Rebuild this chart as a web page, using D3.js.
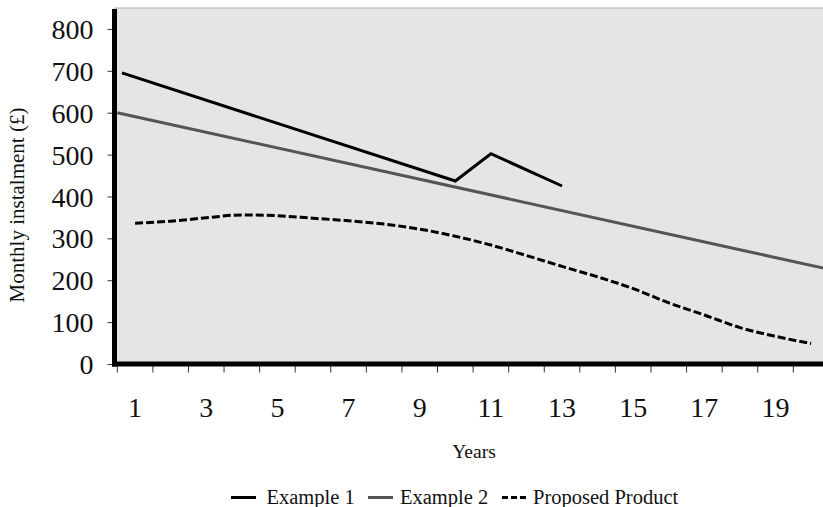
<!DOCTYPE html>
<html>
<head>
<meta charset="utf-8">
<script src="https://cdn.jsdelivr.net/npm/d3@7"></script>
<style>
  html, body { margin: 0; padding: 0; background: #ffffff; }
  svg { display: block; font-family: "Liberation Serif", "DejaVu Serif", serif; }
</style>
</head>
<body>
<svg id="chart" width="823" height="507"></svg>
<script>
// ---- data ----
const categories = d3.range(1, 21);               // years 1..20
const xTickLabels = [1, 3, 5, 7, 9, 11, 13, 15, 17, 19];
const yTicks = [0, 100, 200, 300, 400, 500, 600, 700, 800];

const proposedValues = [336, 341, 349, 356, 354, 348, 342, 334, 322, 305,
                        284, 259, 233, 208, 180, 146, 117, 87, 66, 49];
const example1Years = [0.63, 10, 11, 13];
const example1Values = [695, 437, 502, 425];
const example2Years = [0.5, 20.5];
const example2Values = [600, 226];

const seriesNames = ["Example 1", "Example 2", "Proposed Product"];

// ---- layout ----
const svg = d3.select("#chart");
const W = 823, H = 507;
const plotLeft = 115, plotTop = 8, plotBottom = 364;

const x = d3.scaleLinear().domain([0.5, 20.5]).range([117.3, 117.3 + 20 * 35.58]);
const y = d3.scaleLinear().domain([0, 850]).range([plotBottom, plotTop]);

// background
svg.append("rect")
  .attr("x", plotLeft).attr("y", plotTop)
  .attr("width", W - plotLeft + 10).attr("height", plotBottom - plotTop)
  .attr("fill", "#e5e5e5")
  .attr("stroke", "#b4b4b4").attr("stroke-width", 1);

svg.append("defs").append("clipPath").attr("id", "clip")
  .append("rect").attr("x", plotLeft).attr("y", plotTop)
  .attr("width", W - plotLeft).attr("height", plotBottom - plotTop);

const g = svg.append("g").attr("clip-path", "url(#clip)");

// lines
const lineXY = d3.line().x(d => x(d[0])).y(d => y(d[1]));

g.append("path")
  .datum(example2Years.map((yr, i) => [yr, example2Values[i]]))
  .attr("d", lineXY)
  .attr("fill", "none").attr("stroke", "#555555").attr("stroke-width", 3);

g.append("path")
  .datum(example1Years.map((yr, i) => [yr, example1Values[i]]))
  .attr("d", lineXY)
  .attr("fill", "none").attr("stroke", "#000000").attr("stroke-width", 3)
  .attr("stroke-linejoin", "miter");

g.append("path")
  .datum(categories.map((c, i) => [c, proposedValues[i]]))
  .attr("d", d3.line().x(d => x(d[0])).y(d => y(d[1])).curve(d3.curveMonotoneX))
  .attr("fill", "none").attr("stroke", "#000000").attr("stroke-width", 3)
  .attr("stroke-dasharray", "8,3");

// y axis
const yAxis = d3.axisLeft(y).tickValues(yTicks).tickSize(5).tickPadding(14);
const ya = svg.append("g").attr("transform", `translate(${plotLeft - 2.5},0)`).call(yAxis);
ya.select(".domain").remove();
ya.selectAll(".tick line").attr("stroke", "#333").attr("stroke-width", 1);
ya.selectAll(".tick text")
  .attr("font-family", "Liberation Serif").attr("font-size", 28).attr("fill", "#111")
  .attr("dy", "0.34em");

// x axis: tick marks at band edges, labels at band centres
const edgeTicks = d3.range(0.5, 20, 1);
const xa = svg.append("g").attr("transform", `translate(0,${plotBottom})`);
xa.selectAll("line.tk").data(edgeTicks).join("line").attr("class", "tk")
  .attr("x1", d => x(d)).attr("x2", d => x(d))
  .attr("y1", 2).attr("y2", 8.5)
  .attr("stroke", "#333").attr("stroke-width", 1);
xa.selectAll("text").data(xTickLabels).join("text")
  .attr("x", d => x(d)).attr("y", 53)
  .attr("text-anchor", "middle")
  .attr("font-size", 28).attr("fill", "#111")
  .text(d => d);

// thick axis lines
svg.append("line")
  .attr("x1", plotLeft - 0.5).attr("x2", plotLeft - 0.5)
  .attr("y1", plotTop + 1).attr("y2", plotBottom + 2.5)
  .attr("stroke", "#000").attr("stroke-width", 5);
svg.append("line")
  .attr("x1", plotLeft - 3).attr("x2", W)
  .attr("y1", plotBottom).attr("y2", plotBottom)
  .attr("stroke", "#000").attr("stroke-width", 5);

// axis titles
svg.append("text")
  .attr("transform", `translate(24,205) rotate(-90)`)
  .attr("text-anchor", "middle")
  .attr("font-size", 21).attr("fill", "#111")
  .text("Monthly instalment (£)");

svg.append("text")
  .attr("x", 474).attr("y", 458)
  .attr("text-anchor", "middle")
  .attr("font-size", 19.5).attr("fill", "#111")
  .text("Years");

// legend
const legendItems = [
  { name: seriesNames[0], x0: 231, tx: 266.5, color: "#000", dash: null },
  { name: seriesNames[1], x0: 368, tx: 400, color: "#555", dash: null },
  { name: seriesNames[2], x0: 502, tx: 533, color: "#000", dash: "6,3" }
];
const lg = svg.append("g");
legendItems.forEach(it => {
  lg.append("line")
    .attr("x1", it.x0).attr("x2", it.x0 + 25)
    .attr("y1", 497.5).attr("y2", 497.5)
    .attr("stroke", it.color).attr("stroke-width", 3)
    .attr("stroke-dasharray", it.dash);
  lg.append("text")
    .attr("x", it.tx).attr("y", 503.5)
    .attr("font-size", 20.5).attr("fill", "#111")
    .text(it.name);
});
</script>
</body>
</html>
